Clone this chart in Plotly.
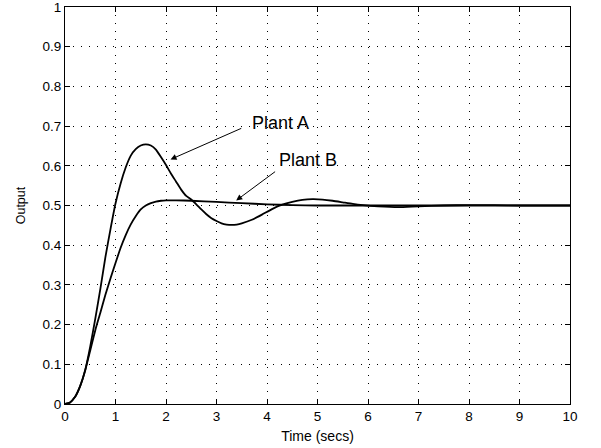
import plotly.graph_objects as go

# Plant A step response
t_a = [0, 0.1, 0.2, 0.3, 0.4, 0.5, 0.6, 0.7, 0.8, 0.9, 1.0, 1.1, 1.2, 1.3, 1.4, 1.5, 1.6, 1.7,
       1.8, 1.9, 2.0, 2.1, 2.2, 2.3, 2.4, 2.5, 2.6, 2.7, 2.8, 2.9, 3.0, 3.1, 3.2, 3.3, 3.4, 3.5,
       3.7, 3.9, 4.1, 4.3, 4.5, 4.7, 4.9, 5.1, 5.3, 5.5, 5.7, 5.9, 6.2, 6.6, 7.0, 7.5, 8.0, 8.5,
       9.0, 10.0]
y_a = [0, 0.004, 0.018, 0.045, 0.085, 0.145, 0.215, 0.29, 0.37, 0.44, 0.505, 0.555, 0.595,
       0.625, 0.642, 0.651, 0.654, 0.651, 0.641, 0.622, 0.602, 0.58, 0.56, 0.54, 0.524, 0.515,
       0.503, 0.49, 0.478, 0.468, 0.461, 0.455, 0.452, 0.451, 0.452, 0.455, 0.464, 0.477, 0.491,
       0.502, 0.509, 0.514, 0.516, 0.515, 0.512, 0.508, 0.504, 0.501, 0.498, 0.496, 0.498, 0.500,
       0.501, 0.501, 0.500, 0.500]

# Plant B step response
t_b = [0, 0.1, 0.2, 0.3, 0.4, 0.5, 0.6, 0.7, 0.8, 0.9, 1.0, 1.1, 1.2, 1.3, 1.4, 1.5, 1.6, 1.7,
       1.8, 1.9, 2.0, 2.2, 2.5, 3.0, 3.5, 4.0, 4.5, 5.0, 6.0, 8.0, 10.0]
y_b = [0, 0.004, 0.018, 0.045, 0.085, 0.135, 0.186, 0.23, 0.275, 0.316, 0.355, 0.393, 0.425,
       0.452, 0.473, 0.49, 0.50, 0.506, 0.51, 0.512, 0.513, 0.513, 0.512, 0.509, 0.506, 0.503,
       0.501, 0.50, 0.50, 0.50, 0.50]

x_ticks = list(range(0, 11))
y_ticks = [0, 0.1, 0.2, 0.3, 0.4, 0.5, 0.6, 0.7, 0.8, 0.9, 1]
y_tick_labels = ["0", "0.1", "0.2", "0.3", "0.4", "0.5", "0.6", "0.7", "0.8", "0.9", "1"]

FONT = "Liberation Sans, Arial, sans-serif"

fig = go.Figure()
fig.add_trace(go.Scatter(x=t_a, y=y_a, mode="lines", name="Plant A",
                         line=dict(color="black", width=1.8, shape="spline", smoothing=0.6)))
fig.add_trace(go.Scatter(x=t_b, y=y_b, mode="lines", name="Plant B",
                         line=dict(color="black", width=1.8, shape="spline", smoothing=0.6)))

axis_common = dict(
    showline=True, linecolor="black", linewidth=1.2, mirror="ticks",
    ticks="inside", ticklen=5, tickcolor="black", tickwidth=1,
    showgrid=True, gridcolor="black", gridwidth=1.1, griddash="1px,7px",
    zeroline=False, automargin=False, ticklabeloverflow="allow",
    tickfont=dict(family=FONT, size=13.5, color="black"),
)

fig.update_layout(
    width=601, height=448,
    margin=dict(l=65, r=31, t=7, b=44),
    paper_bgcolor="white", plot_bgcolor="white",
    showlegend=False,
    font=dict(family=FONT, color="black"),
    xaxis=dict(range=[0, 10], tickvals=x_ticks,
               title=dict(text="Time (secs)", font=dict(size=14), standoff=7),
               **axis_common),
    yaxis=dict(range=[0, 1], tickvals=y_ticks, ticktext=y_tick_labels,
               title=dict(text="Output", font=dict(size=12.5), standoff=14),
               **axis_common),
)

# arrows
fig.add_annotation(x=2.09, y=0.616, ax=3.52, ay=0.696, xref="x", yref="y", axref="x", ayref="y",
                   showarrow=True, arrowhead=2, arrowsize=1.2, arrowwidth=1, arrowcolor="black", text="")
fig.add_annotation(x=3.39, y=0.5126, ax=4.19, ay=0.588, xref="x", yref="y", axref="x", ayref="y",
                   showarrow=True, arrowhead=2, arrowsize=1.2, arrowwidth=1, arrowcolor="black", text="")
# labels
fig.add_annotation(x=3.66, y=0.708, xref="x", yref="y", text="Plant A", showarrow=False,
                   xanchor="left", yanchor="middle", font=dict(family=FONT, size=18, color="black"))
fig.add_annotation(x=4.2, y=0.615, xref="x", yref="y", text="Plant B", showarrow=False,
                   xanchor="left", yanchor="middle", font=dict(family=FONT, size=18, color="black"))

fig.write_html("out.html", config={"displayModeBar": False},
               post_script="document.body.style.margin='0';")
